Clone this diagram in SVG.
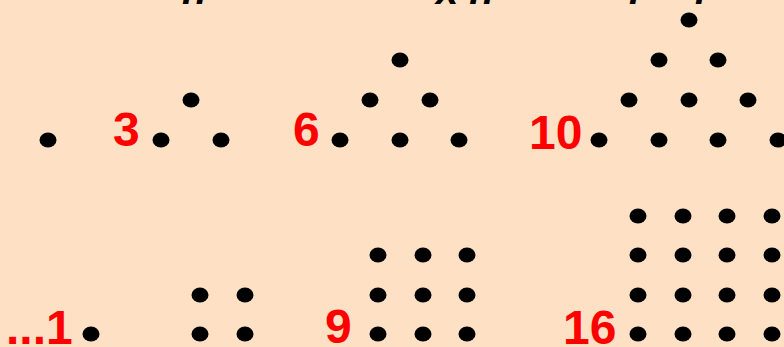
<svg xmlns="http://www.w3.org/2000/svg" width="784" height="347" viewBox="0 0 784 347">
<defs>
<style>
.num{font-family:"Liberation Sans",Arial,sans-serif;font-weight:bold;font-size:48px;fill:#FF0000}
.top{font-family:"Liberation Sans",Arial,sans-serif;font-weight:bold;font-style:italic;font-size:40px;fill:#000}
</style>
<ellipse id="d" cx="0" cy="0" rx="8.5" ry="7.6" fill="#000"/>
</defs>
<rect width="784" height="347" fill="#FEE0C5"/>
<g id="top-text">
<text class="top" x="182" y="4">n</text>
<text class="top" x="436" y="4">x n</text>
<text class="top" x="629" y="4">l</text>
<text class="top" x="695" y="4">l</text>
</g>
<g id="tri1">
<use href="#d" x="48" y="140"/>
</g>
<g id="tri3">
<text class="num" x="113" y="146">3</text>
<use href="#d" x="191" y="100"/>
<use href="#d" x="161" y="140"/><use href="#d" x="221" y="140"/>
</g>
<g id="tri6">
<text class="num" x="293" y="146">6</text>
<use href="#d" x="400" y="60"/>
<use href="#d" x="370" y="100"/><use href="#d" x="430" y="100"/>
<use href="#d" x="340" y="140"/><use href="#d" x="400" y="140"/><use href="#d" x="459" y="140"/>
</g>
<g id="tri10">
<text class="num" x="529" y="149">10</text>
<use href="#d" x="689" y="20"/>
<use href="#d" x="659" y="60"/><use href="#d" x="718" y="60"/>
<use href="#d" x="629" y="100"/><use href="#d" x="689" y="100"/><use href="#d" x="748" y="100"/>
<use href="#d" x="599" y="140"/><use href="#d" x="659" y="140"/><use href="#d" x="718" y="140"/><use href="#d" x="778" y="140"/>
</g>
<g id="sq1">
<text class="num" x="6" y="344">...1</text>
<use href="#d" x="91" y="334"/>
</g>
<g id="sq4">
<use href="#d" x="200" y="295"/><use href="#d" x="245" y="295"/>
<use href="#d" x="200" y="334"/><use href="#d" x="245" y="334"/>
</g>
<g id="sq9">
<text class="num" x="325" y="343">9</text>
<use href="#d" x="378" y="255"/><use href="#d" x="423" y="255"/><use href="#d" x="467" y="255"/>
<use href="#d" x="378" y="295"/><use href="#d" x="423" y="295"/><use href="#d" x="467" y="295"/>
<use href="#d" x="378" y="334"/><use href="#d" x="423" y="334"/><use href="#d" x="467" y="334"/>
</g>
<g id="sq16">
<text class="num" x="563" y="344">16</text>
<use href="#d" x="638" y="216"/><use href="#d" x="683" y="216"/><use href="#d" x="727" y="216"/><use href="#d" x="772" y="216"/>
<use href="#d" x="638" y="255"/><use href="#d" x="683" y="255"/><use href="#d" x="727" y="255"/><use href="#d" x="772" y="255"/>
<use href="#d" x="638" y="295"/><use href="#d" x="683" y="295"/><use href="#d" x="727" y="295"/><use href="#d" x="772" y="295"/>
<use href="#d" x="638" y="334"/><use href="#d" x="683" y="334"/><use href="#d" x="727" y="334"/><use href="#d" x="772" y="334"/>
</g>
</svg>
